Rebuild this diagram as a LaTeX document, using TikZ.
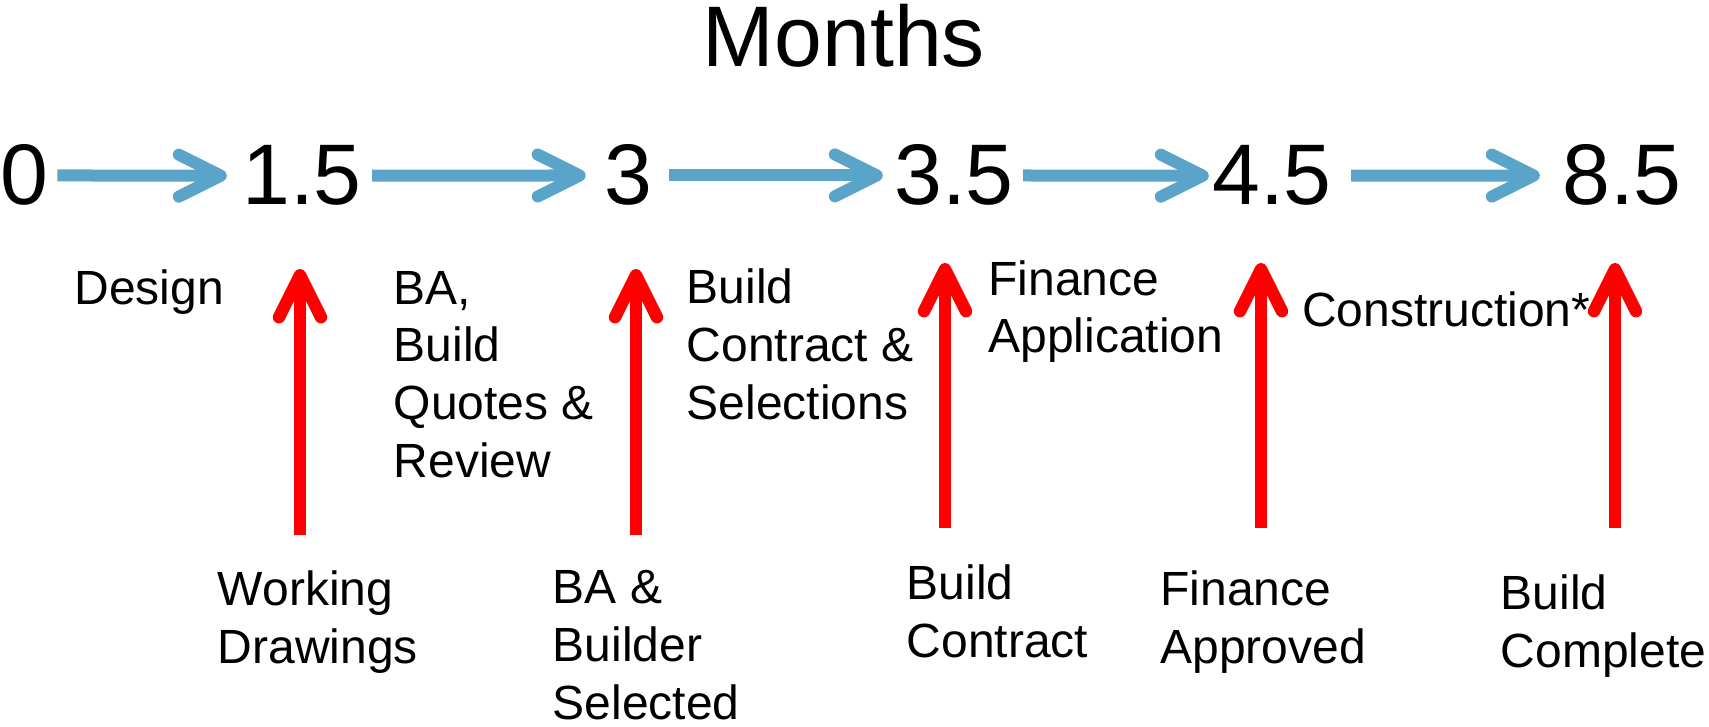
\documentclass[tikz,border=0pt]{standalone}
\usepackage{fontspec}
\setmainfont{Liberation Sans}
\usetikzlibrary{arrows.meta}
\definecolor{flowblue}{RGB}{90,164,201}
\definecolor{riserred}{RGB}{255,0,0}

\begin{document}
\begin{tikzpicture}[x=0.5pt,y=-0.5pt,
  num/.style={font=\fontsize{43}{43}\selectfont, inner sep=0pt, anchor=base},
  lab/.style={font=\fontsize{24}{28.8}\selectfont, inner sep=0pt, anchor=base west, align=left},
  flow/.style={flowblue, line width=6pt, -{Straight Barb[length=21pt,width=21pt,round]}},
  riser/.style={riserred, line width=6.2pt, -{Straight Barb[length=21pt,width=21pt,round]}}]
\useasboundingbox (0,0) rectangle (1709,727);

\node[num] (title) at (844,67) {Months};

% months along the top
\node[num] (n0) at (24,205) {0};
\node[num] (n15) at (302,205) {1.5};
\node[num] (n3) at (628,205) {3};
\node[num] (n35) at (954,205) {3.5};
\node[num] (n45) at (1272,205) {4.5};
\node[num] (n85) at (1622,205) {8.5};

\foreach \a/\b/\s/\e in {n0/n15/4.5/7.5, n15/n3/5/9, n3/n35/8.5/5.5, n35/n45/4.5/1.5, n45/n85/9.5/11}
  \draw[flow, shorten <=\s pt, shorten >=\e pt] (\a) -- (\b);

% stages between the months (base = last line)
\node[lab] (design) at (74,305) {Design};
\node[lab] (quotes) at (393.5,477) {BA,\\Build\\Quotes \&\\Review};
\node[lab] (select) at (686.5,419) {Build\\Contract \&\\Selections};
\node[lab] (finapp) at (988,353) {Finance\\Application};
\node[lab] (constr) at (1301.6,327) {Construction*};

% milestones
\foreach \n/\x/\top/\bot in {1/300/269/535, 2/636/269/535, 3/945/263/528, 4/1261/263/528, 5/1615/263/528}{
  \coordinate (b\n) at (\x,\bot);
  \coordinate (t\n) at (\x,\top);
  \draw[riser] (b\n) -- (t\n);
}

\node[lab] (drawings) at (217.5,663) {Working\\Drawings};
\node[lab] (builder) at (552.5,719) {BA \&\\Builder\\Selected};
\node[lab] (contract) at (906.5,657) {Build\\Contract};
\node[lab] (approved) at (1160,663) {Finance\\Approved};
\node[lab] (complete) at (1500.5,667) {Build\\Complete};

\end{tikzpicture}
\end{document}
